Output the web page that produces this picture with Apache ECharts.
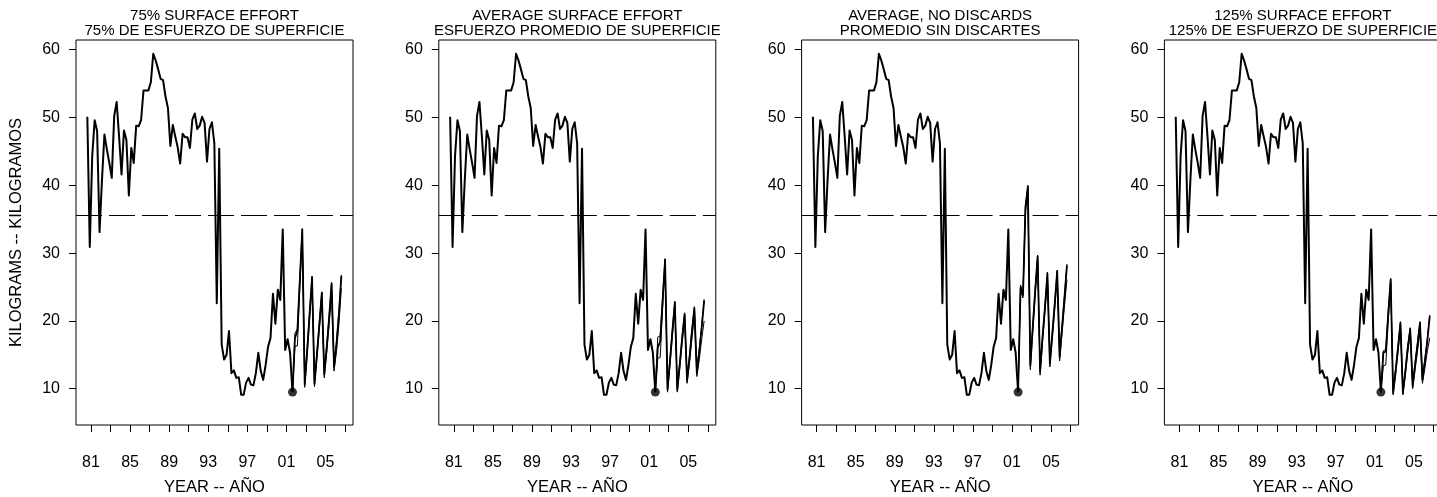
<!DOCTYPE html>
<html>
<head>
<meta charset="utf-8">
<script src="https://cdn.jsdelivr.net/npm/echarts@6/dist/echarts.min.js"></script>
<style>
  html, body { margin: 0; padding: 0; background: #fff; }
  #chart { width: 1437px; height: 497px; }
</style>
</head>
<body>
<div id="chart"></div>
<script>
// quarterly series: time of the first plotted quarter and the quarter step (years)
const firstQuarter = 1980.625;
const quarterStep = 0.25;

// observed average weight (kg), same in every panel; last value is the dot
const observed = [
  50.1, 30.9, 44.3, 49.6, 48.0, 33.1, 40.8, 47.5, 45.3, 43.3,
  41.1, 50.2, 52.3, 47.2, 41.6, 48.1, 46.7, 38.5, 45.5, 43.3,
  48.8, 48.7, 49.6, 54.0, 54.0, 54.0, 55.2, 59.4, 58.4, 57.1,
  55.7, 55.5, 53.1, 51.4, 45.8, 48.9, 47.2, 45.6, 43.2, 47.6,
  47.1, 47.1, 45.5, 49.7, 50.6, 48.3, 48.8, 50.1, 49.2, 43.5,
  48.3, 49.3, 46.2, 22.6, 45.4, 16.5, 14.3, 15.0, 18.5, 12.3,
  12.7, 11.6, 11.7, 9.1, 9.1, 10.9, 11.6, 10.6, 10.5, 12.3,
  15.3, 12.6, 11.3, 13.5, 16.2, 17.5, 24.0, 19.6, 24.6, 23.1,
  33.5, 15.7, 17.3, 15.3, 9.5
];

// projections, starting at the last observed quarter
const panelTitles = [
  "75% SURFACE EFFORT\n75% DE ESFUERZO DE SUPERFICIE",
  "AVERAGE SURFACE EFFORT\nESFUERZO PROMEDIO DE SUPERFICIE",
  "AVERAGE, NO DISCARDS\nPROMEDIO SIN DISCARTES",
  "125% SURFACE EFFORT\n125% DE ESFUERZO DE SUPERFICIE"
];
const projMid = [
  [9.5, 17.5, 18.5, 26.0, 33.5, 10.6, 15.5, 21.0, 26.4, 10.7, 15.0, 19.5, 24.1, 12.1, 16.0, 20.5, 25.5, 13.2, 16.5, 21.0, 26.6],
  [9.5, 16.0, 17.0, 23.0, 29.0, 9.9, 14.0, 18.5, 22.7, 9.8, 13.5, 17.5, 21.0, 11.2, 14.5, 18.5, 21.9, 12.3, 15.5, 19.0, 23.0],
  [9.5, 24.9, 23.8, 36.7, 39.8, 13.4, 19.0, 24.5, 29.5, 12.5, 17.5, 22.0, 27.0, 13.7, 18.0, 22.5, 27.3, 14.7, 19.0, 23.5, 28.2],
  [9.5, 15.3, 15.5, 21.0, 26.1, 9.4, 12.5, 16.0, 19.7, 9.4, 12.5, 16.0, 18.8, 10.4, 13.5, 16.5, 19.7, 11.3, 14.0, 17.0, 20.7]
];
const projLow = [
  [9.5, 16.3, 16.3, 25.0, 32.5, 10.2, 15.0, 20.3, 25.4, 10.3, 14.5, 18.8, 23.0, 11.6, 15.3, 19.5, 24.0, 12.6, 15.5, 19.5, 24.8],
  [9.5, 14.5, 14.6, 22.0, 28.4, 9.5, 13.4, 17.8, 22.0, 9.5, 13.0, 16.8, 20.3, 10.8, 13.8, 17.4, 20.8, 11.8, 14.3, 17.3, 20.0],
  [9.5, 24.5, 23.4, 36.0, 39.0, 12.8, 18.4, 23.8, 28.8, 12.0, 17.0, 21.4, 26.2, 13.2, 17.4, 21.8, 26.5, 14.1, 18.2, 22.3, 26.1],
  [9.5, 13.4, 13.5, 20.0, 25.5, 9.1, 12.0, 15.4, 19.0, 9.1, 12.0, 15.4, 18.2, 10.0, 12.8, 15.6, 18.5, 10.8, 13.0, 15.5, 17.5]
];
const projHigh = [
  [9.5, 18.2, 18.8, 26.5, 33.6, 11.1, 16.0, 21.4, 26.6, 11.2, 15.4, 19.9, 24.3, 12.6, 16.4, 20.8, 25.7, 13.6, 16.9, 21.3, 26.8],
  [9.5, 17.6, 17.8, 23.5, 29.2, 10.5, 14.4, 18.8, 22.9, 10.3, 13.9, 17.8, 21.2, 11.8, 14.9, 18.8, 22.1, 12.9, 15.9, 19.3, 23.2],
  [9.5, 25.3, 24.2, 37.0, 40.0, 13.8, 19.4, 24.8, 29.7, 13.0, 17.8, 22.3, 27.2, 14.2, 18.4, 22.8, 27.5, 15.3, 19.4, 23.8, 28.4],
  [9.5, 15.6, 15.8, 21.4, 26.3, 9.9, 12.9, 16.4, 19.9, 9.9, 12.9, 16.4, 19.0, 10.9, 13.9, 16.9, 19.9, 11.8, 14.4, 17.4, 20.9]
];
const criticalWeight = 35.6;
const xTickYears = [1981, 1983, 1985, 1987, 1989, 1991, 1993, 1995, 1997, 1999, 2001, 2003, 2005, 2007];
const xLabelYears = [1981, 1985, 1989, 1993, 1997, 2001, 2005];
const yTicks = [10, 20, 30, 40, 50, 60];

const FONT = "'Liberation Sans', Arial, Helvetica, sans-serif";
const chart = echarts.init(document.getElementById("chart"));

const panelLeft = [76, 438.8, 801.6, 1164.4];
const gridW = 277, gridTop = 40, gridH = 385;

const toXY = (arr, start) => arr.map((v, i) => [firstQuarter + (start + i) * quarterStep, v]);
const lastIdx = observed.length - 1;

let grid = [], xAxis = [], yAxis = [], series = [], title = [];
panelTitles.forEach((t, p) => {
  grid.push({
    left: panelLeft[p], top: gridTop, width: gridW, height: gridH,
    outerBoundsMode: "none", containLabel: false,
    show: true, borderColor: "#000", borderWidth: 1, backgroundColor: "transparent"
  });
  title.push({
    text: t,
    left: panelLeft[p] + gridW / 2,
    top: 8,
    padding: 0,
    textAlign: "center",
    textStyle: { fontFamily: FONT, fontSize: 15, fontWeight: "normal", color: "#000", lineHeight: 15 }
  });
  xAxis.push({
    type: "value", gridIndex: p, min: 1979.465, max: 2007.817,
    axisLine: { show: false },
    splitLine: { show: false },
    axisTick: { show: true, length: 7, customValues: xTickYears, lineStyle: { color: "#000", width: 1 } },
    axisLabel: {
      customValues: xLabelYears, margin: 30, color: "#000",
      fontFamily: FONT, fontSize: 16,
      formatter: v => String(v).slice(2)
    },
    name: "YEAR -- AÑO", nameLocation: "middle", nameGap: 54,
    nameTextStyle: { fontFamily: FONT, fontSize: 16.5, color: "#000" }
  });
  yAxis.push({
    type: "value", gridIndex: p, min: 4.65, max: 61.43,
    axisLine: { show: false },
    splitLine: { show: false },
    axisTick: { show: true, length: 7, customValues: yTicks, lineStyle: { color: "#000", width: 1 } },
    axisLabel: { customValues: yTicks, margin: 16, color: "#000", fontFamily: FONT, fontSize: 16 },
    name: p === 0 ? "KILOGRAMS -- KILOGRAMOS" : "",
    nameLocation: "middle", nameGap: 51, nameRotate: 90,
    nameTextStyle: { fontFamily: FONT, fontSize: 16.5, color: "#000" }
  });

  series.push({
    type: "line", xAxisIndex: p, yAxisIndex: p,
    data: toXY(observed, 0), showSymbol: false, silent: true,
    lineStyle: { color: "#000", width: 2, join: "round" },
    markLine: {
      silent: true, symbol: ["none", "none"], label: { show: false },
      lineStyle: { color: "#000", width: 1, type: [26, 7] },
      data: [{ yAxis: criticalWeight }]
    }
  });
  [projLow[p], projHigh[p]].forEach(b => {
    series.push({
      type: "line", xAxisIndex: p, yAxisIndex: p,
      data: toXY(b, lastIdx), showSymbol: false, silent: true,
      lineStyle: { color: "#000", width: 1, join: "round" }
    });
  });
  series.push({
    type: "line", xAxisIndex: p, yAxisIndex: p,
    data: toXY(projMid[p], lastIdx), showSymbol: false, silent: true,
    lineStyle: { color: "#000", width: 1.8, join: "round" }
  });
  series.push({
    type: "scatter", xAxisIndex: p, yAxisIndex: p,
    data: [[firstQuarter + lastIdx * quarterStep, observed[lastIdx]]],
    symbol: "circle", symbolSize: 9, silent: true,
    itemStyle: { color: "#000" }
  });
});

chart.setOption({ animation: false, title, grid, xAxis, yAxis, series });
</script>
</body>
</html>
